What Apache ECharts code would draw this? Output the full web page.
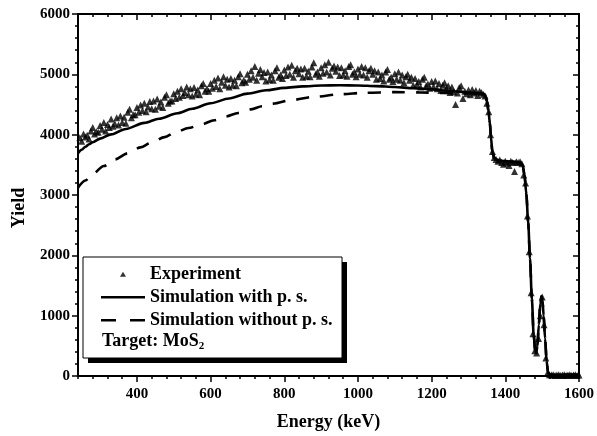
<!DOCTYPE html>
<html><head><meta charset="utf-8">
<script src="https://cdn.jsdelivr.net/npm/echarts@6/dist/echarts.min.js"></script>
<style>html,body{margin:0;padding:0;background:#fff}#c{width:597px;height:436px}</style>
</head><body><div id="c"></div>
<script>
const xMajorTicks = [400, 600, 800, 1000, 1200, 1400, 1600];

const expEnergy = [
245,250,255,260,265,270,275,280,285,290,
295,300,305,310,315,320,325,330,335,340,
345,350,355,360,365,370,375,380,385,390,
395,400,405,410,415,420,425,430,435,440,
445,450,455,460,465,470,475,480,485,490,
495,500,505,510,515,520,525,530,535,540,
545,550,555,560,565,570,575,580,585,590,
595,600,605,610,615,620,625,630,635,640,
645,650,655,660,665,670,675,680,685,690,
695,700,705,710,715,720,725,730,735,740,
745,750,755,760,765,770,775,780,785,790,
795,800,805,810,815,820,825,830,835,840,
845,850,855,860,865,870,875,880,885,890,
895,900,905,910,915,920,925,930,935,940,
945,950,955,960,965,970,975,980,985,990,
995,1000,1005,1010,1015,1020,1025,1030,1035,1040,
1045,1050,1055,1060,1065,1070,1075,1080,1085,1090,
1095,1100,1105,1110,1115,1120,1125,1130,1135,1140,
1145,1150,1155,1160,1165,1170,1175,1180,1185,1190,
1195,1200,1205,1210,1215,1220,1225,1230,1235,1240,
1245,1250,1255,1260,1265,1270,1275,1280,1285,1290,
1295,1300,1305,1310,1315,1320,1325,1330,1335,1340,
1345,1350,1355,1360,1365,1370,1375,1380,1385,1390,
1395,1400,1405,1410,1415,1420,1425,1430,1435,1440,
1445,1450,1455,1460,1465,1470,1475,1480,1485,1490,
1495,1500,1505,1510,1515,1520,1525,1530,1535,1540,
1545,1550,1555,1560,1565,1570,1575,1580,1585,1590,
1595,1600];

const expYield = [
3950,3890,4010,3960,3990,3930,4060,4120,4010,4050,
4040,4150,4090,4200,4060,4170,4120,4260,4140,4180,
4280,4160,4310,4200,4290,4190,4370,4420,4280,4330,
4330,4450,4370,4490,4400,4520,4380,4460,4550,4430,
4560,4420,4590,4470,4540,4450,4620,4660,4520,4560,
4560,4680,4600,4720,4620,4760,4650,4700,4790,4660,
4760,4640,4780,4670,4740,4660,4810,4850,4720,4760,
4720,4850,4770,4900,4800,4940,4760,4870,4960,4820,
4920,4790,4930,4820,4900,4810,4960,5010,4860,4900,
4870,5000,4920,5060,4950,5130,4900,5020,5080,4960,
5030,4890,5040,4910,4990,4900,5060,5110,4950,4990,
4930,5070,4980,5120,5000,5150,4950,5060,5100,5010,
5090,4950,5100,4970,5050,4960,5120,5190,5000,5040,
4970,5110,5020,5160,5040,5200,4990,5100,5140,5050,
5120,4980,5110,4990,5060,4970,5130,5160,5000,5040,
4960,5090,5000,5130,4990,5110,4950,5060,5100,5000,
5060,4920,5040,4930,4990,4890,5040,5080,4920,4950,
4880,5010,4920,5040,4900,4990,4860,4960,5000,4900,
4950,4820,4930,4830,4880,4790,4920,4950,4810,4840,
4770,4880,4800,4890,4760,4850,4730,4820,4860,4770,
4810,4700,4790,4710,4500,4690,4780,4810,4600,4720,
4680,4740,4660,4750,4690,4730,4650,4720,4700,4670,
4640,4520,4380,4000,3720,3620,3590,3560,3580,3540,
3510,3560,3530,3490,3560,3540,3390,3550,3540,3550,
3520,3330,3200,2650,2060,1380,700,420,380,620,
1000,1310,850,300,60,20,15,20,10,15,
20,10,15,20,10,15,20,10,15,20,
10,15];

const simWithE = [240,250,260,270,280,300,330,370,420,460,510,550,600,650,700,750,800,850,900,950,1000,1050,1100,1150,1200,1250,1300,1340,1345,1350,1354,1358,1361,1365,1370,1380,1400,1420,1440,1447,1452,1457,1462,1467,1472,1477,1481,1484,1487,1491,1495,1498,1501,1504,1508,1512,1516,1520,1600];
const simWithY = [3690,3750,3800,3840,3875,3935,4005,4095,4195,4265,4355,4430,4520,4600,4680,4735,4775,4800,4815,4820,4815,4805,4790,4770,4750,4725,4700,4680,4660,4560,4400,4200,3960,3700,3610,3575,3560,3550,3540,3500,3330,3020,2550,1950,1280,680,420,380,500,850,1200,1320,1240,1000,620,250,60,20,20];

const simWithoutE = [240,260,280,310,340,375,410,440,475,505,540,575,610,640,675,710,740,770,820,885,950,1020,1100,1170,1230,1280,1320,1340,1345,1350,1354,1358,1361,1365,1370,1380,1400,1420,1440,1447,1452,1457,1462,1467,1472,1477,1481,1484,1487,1491,1495,1498,1501,1504,1508,1512,1516,1520,1600];
const simWithoutY = [3120,3240,3350,3480,3590,3690,3790,3870,3960,4040,4110,4170,4240,4300,4360,4420,4470,4515,4575,4630,4670,4695,4705,4700,4690,4685,4680,4678,4660,4560,4400,4200,3960,3700,3610,3575,3560,3550,3540,3500,3330,3020,2550,1950,1280,680,420,380,500,850,1200,1320,1240,1000,620,250,60,20,20];

const legendNames = ['Experiment', 'Simulation with p. s.', 'Simulation without p. s.'];

function zip(a, b) { return a.map((v, i) => [v, b[i]]); }

const FONT = "'Liberation Serif', 'Times New Roman', serif";
const lab = { fontFamily: FONT, fontWeight: 'bold', fontSize: 15, color: '#000' };
const axLine = { show: true, lineStyle: { color: '#000', width: 2 } };

const chart = echarts.init(document.getElementById('c'), null, { renderer: 'canvas' });
chart.setOption({
  animation: false,
  backgroundColor: '#fff',
  grid: { left: 78, right: 16, top: 14, bottom: 60 },
  xAxis: [
    { type: 'value', min: 240, max: 1600, interval: 40, position: 'bottom',
      axisLine: axLine, splitLine: { show: false },
      axisTick: { show: true, length: 3, lineStyle: { color: '#000', width: 1.5 } },
      axisLabel: Object.assign({ margin: 11, formatter: v => (v % 200 === 0 ? String(v) : '') }, lab),
      name: 'Energy (keV)', nameLocation: 'middle', nameGap: 37,
      nameTextStyle: { fontFamily: FONT, fontWeight: 'bold', fontSize: 18, color: '#000' } },
    { type: 'value', min: 240, max: 1600, position: 'bottom',
      axisLine: { show: false }, splitLine: { show: false }, axisLabel: { show: false },
      axisTick: { show: true, length: 6, customValues: xMajorTicks, lineStyle: { color: '#000', width: 1.5 } } },
    { type: 'value', min: 240, max: 1600, interval: 40, position: 'top',
      axisLine: axLine, splitLine: { show: false }, axisLabel: { show: false },
      axisTick: { show: true, inside: true, length: 3, lineStyle: { color: '#000', width: 1.5 } } },
    { type: 'value', min: 240, max: 1600, position: 'top',
      axisLine: { show: false }, splitLine: { show: false }, axisLabel: { show: false },
      axisTick: { show: true, inside: true, length: 6, customValues: xMajorTicks, lineStyle: { color: '#000', width: 1.5 } } }
  ],
  yAxis: [
    { type: 'value', min: 0, max: 6000, interval: 1000, position: 'left',
      axisLine: axLine, splitLine: { show: false },
      axisTick: { show: true, length: 6, lineStyle: { color: '#000', width: 1.5 } },
      minorTick: { show: true, splitNumber: 5, length: 3, lineStyle: { color: '#000', width: 1.5 } },
      minorSplitLine: { show: false },
      axisLabel: Object.assign({ margin: 8, formatter: v => String(v) }, lab),
      name: 'Yield', nameLocation: 'middle', nameGap: 50,
      nameTextStyle: { fontFamily: FONT, fontWeight: 'bold', fontSize: 18, color: '#000', padding: [0, 26, 0, 0] } },
    { type: 'value', min: 0, max: 6000, interval: 1000, position: 'right',
      axisLine: axLine, splitLine: { show: false }, axisLabel: { show: false },
      axisTick: { show: true, inside: true, length: 6, lineStyle: { color: '#000', width: 1.5 } },
      minorTick: { show: true, splitNumber: 5, length: 3, lineStyle: { color: '#000', width: 1.5 } },
      minorSplitLine: { show: false } }
  ],
  legend: {
    orient: 'vertical', left: 101, top: 263, z: 10, padding: 0,
    itemWidth: 44, itemHeight: 5, itemGap: 0.5, symbolKeepAspect: true,
    data: [
      { name: legendNames[0], icon: 'path://M3,0L6,5L0,5Z', itemStyle: { color: '#000' } },
      { name: legendNames[1], icon: 'path://M0,0H44V2.6H0Z', itemStyle: { color: '#000' } },
      { name: legendNames[2], icon: 'path://M0,0H15V2.6H0Z M29,0H44V2.6H29Z', itemStyle: { color: '#000' } }
    ],
    textStyle: { fontFamily: FONT, fontWeight: 'bold', fontSize: 18, color: '#000', lineHeight: 22.5 },
    selectedMode: false
  },
  graphic: [
    { type: 'rect', z: 1, shape: { x: 88, y: 262, width: 259, height: 101 }, style: { fill: '#000' } },
    { type: 'rect', z: 1, shape: { x: 83, y: 257, width: 259, height: 101 }, style: { fill: '#fff', stroke: '#000', lineWidth: 1 } },
    { type: 'text', z: 11, x: 102, y: 341,
      style: { text: 'Target: MoS{s|2}', font: "bold 18px 'Liberation Serif', serif", fill: '#000',
        verticalAlign: 'middle', align: 'left',
        rich: { s: { fontFamily: FONT, fontWeight: 'bold', fontSize: 11, verticalAlign: 'bottom', padding: [10, 0, 0, 0], fill: '#000' } } } }
  ],
  series: [
    { name: legendNames[1], type: 'line', xAxisIndex: 0, yAxisIndex: 0, data: zip(simWithE, simWithY),
      showSymbol: false, symbol: 'none', smooth: 0.3, smoothMonotone: 'x',
      lineStyle: { color: '#000', width: 2.6 }, itemStyle: { color: '#000' }, z: 2 },
    { name: legendNames[2], type: 'line', xAxisIndex: 0, yAxisIndex: 0, data: zip(simWithoutE, simWithoutY),
      showSymbol: false, symbol: 'none', smooth: 0.3, smoothMonotone: 'x',
      lineStyle: { color: '#000', width: 2.6, type: [13, 11] }, itemStyle: { color: '#000' }, z: 2 },
    { name: legendNames[0], type: 'scatter', xAxisIndex: 0, yAxisIndex: 0, data: zip(expEnergy, expYield),
      symbol: 'triangle', symbolSize: 7, itemStyle: { color: '#000' }, z: 3 }
  ]
});
</script>
</body></html>
